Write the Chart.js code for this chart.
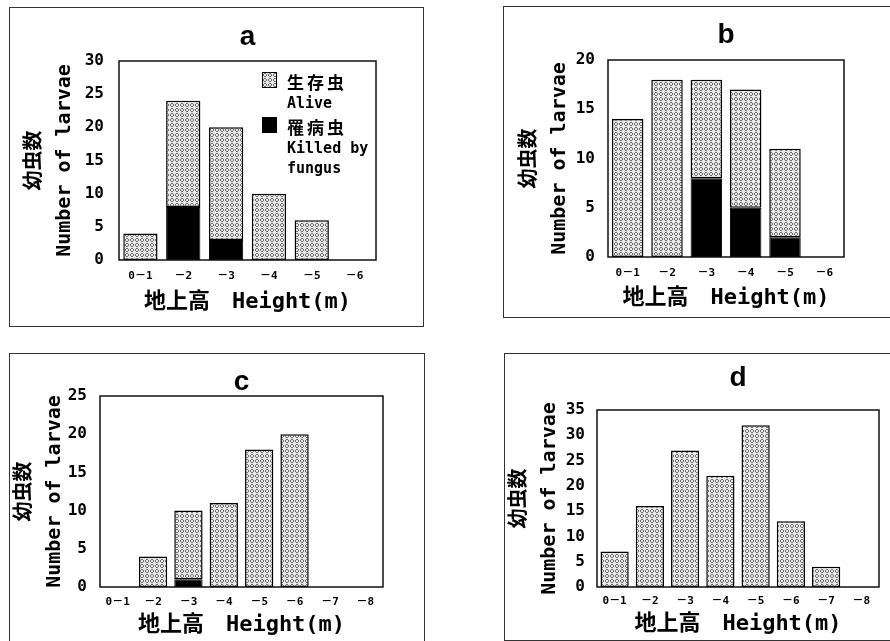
<!DOCTYPE html>
<html>
<head>
<meta charset="utf-8">
<script src="https://cdn.jsdelivr.net/npm/chart.js@4"></script>
<style>
body{margin:0;background:#fff;width:890px;height:641px;overflow:hidden;position:relative;
     font-family:"DejaVu Sans Mono","Noto Sans CJK JP",monospace;color:#000;}
.panel{position:absolute;border:1px solid #333;background:#fff;}
.panel canvas{display:block;}
.lg{position:absolute;left:287px;font-weight:bold;white-space:nowrap;}
.lg.jp{font-family:"Noto Sans CJK JP";font-size:17px;letter-spacing:3px;line-height:20px;}
.lg.en{font-size:15px;line-height:20px;}
.sw{position:absolute;left:262px;width:15px;height:16px;border:1px solid #000;box-sizing:border-box;}
</style>
</head>
<body>
<div class="panel" style="left:9px;top:7px;width:413px;height:318px"><canvas id="chartA"></canvas></div>
<div class="panel" style="left:503px;top:6px;width:398px;height:310px"><canvas id="chartB"></canvas></div>
<div class="panel" style="left:9px;top:353px;width:414px;height:298px"><canvas id="chartC"></canvas></div>
<div class="panel" style="left:504px;top:353px;width:398px;height:286px"><canvas id="chartD"></canvas></div>

<div class="sw" id="swAlive" style="top:72px"></div>
<div class="lg jp" style="top:72px">生存虫</div>
<div class="lg en" style="top:93px">Alive</div>
<div class="sw" style="top:117px;background:#000"></div>
<div class="lg jp" style="top:117px">罹病虫</div>
<div class="lg en" style="top:138px">Killed by</div>
<div class="lg en" style="top:158px">fungus</div>

<script>
// height classes
const labels6 = ['0－1', '－2', '－3', '－4', '－5', '－6'];
const labels8 = ['0－1', '－2', '－3', '－4', '－5', '－6', '－7', '－8'];

// a
const aliveA = [4, 16, 17, 10, 6, 0];
const killedA = [0, 8, 3, 0, 0, 0];
// b
const aliveB = [14, 18, 10, 12, 9, 0];
const killedB = [0, 0, 8, 5, 2, 0];
// c
const aliveC = [0, 4, 9, 11, 18, 20, 0, 0];
const killedC = [0, 0, 1, 0, 0, 0, 0, 0];
// d
const aliveD = [7, 16, 27, 22, 32, 13, 4, 0];
const killedD = [0, 0, 0, 0, 0, 0, 0, 0];

const yMaxA = 30, yMaxB = 20, yMaxC = 25, yMaxD = 35;

const legendAlive = '生存虫 Alive';
const legendKilled = '罹病虫 Killed by fungus';
const xTitle = '地上高　Height(m)';
const yTitle = ['幼虫数', 'Number of larvae'];

Chart.defaults.font.family = '"DejaVu Sans Mono", "Noto Sans CJK JP", monospace';
Chart.defaults.color = '#000';

// dotted halftone fill like the print
function makePattern(){
    let c = document.createElement('canvas');
    c.width = 5; c.height = 5;
    let g = c.getContext('2d');
    g.fillStyle = '#e8e8e8';
    g.fillRect(0, 0, 5, 5);
    g.fillStyle = '#6f6f6f';
    let dots = [[1,0],[2,0],[0,1],[3,1],[0,2],[3,2],[1,3],[2,3]];
    for(let d of dots){
        g.fillRect(d[0], d[1], 1, 1);
    }
    return c;
}
const patCanvas = makePattern();
const pattern = document.createElement('canvas').getContext('2d').createPattern(patCanvas, 'repeat');
document.getElementById('swAlive').style.backgroundImage = 'url(' + patCanvas.toDataURL() + ')';

// box round the plot area
const frame = {
    id: 'frame',
    afterDatasetsDraw(chart){
        const a = chart.chartArea;
        const ctx = chart.ctx;
        ctx.save();
        ctx.strokeStyle = '#111';
        ctx.lineWidth = 1.5;
        ctx.strokeRect(a.left, a.top, a.right - a.left, a.bottom - a.top);
        ctx.restore();
    }
};

function makeChart(id, title, labels, alive, killed, yMax, L){
    const ctx = document.getElementById(id).getContext('2d');
    return new Chart(ctx, {
        type: 'bar',
        data: {
            labels: labels,
            datasets: [{
                label: legendKilled,
                data: killed,
                backgroundColor: '#000',
                borderColor: '#000',
                borderWidth: 1,
                borderSkipped: false
            }, {
                label: legendAlive,
                data: alive,
                backgroundColor: pattern,
                borderColor: '#000',
                borderWidth: 1.5,
                borderSkipped: false
            }]
        },
        options: {
            responsive: true,
            maintainAspectRatio: false,
            animation: false,
            barPercentage: 0.8,
            categoryPercentage: 1,
            layout: {padding: {left: 0, right: L.padRight, top: 0, bottom: 0}},
            plugins: {
                legend: {display: false},
                tooltip: {enabled: false},
                title: {
                    display: true,
                    text: title,
                    fullSize: false,
                    color: '#000',
                    font: {family: '"Liberation Sans", Arial, sans-serif', size: 28, weight: 'bold', lineHeight: 1},
                    padding: {top: L.titleTop, bottom: L.titleBottom}
                }
            },
            scales: {
                x: {
                    stacked: true,
                    grid: {display: false, drawTicks: false},
                    border: {display: false},
                    ticks: {padding: L.xTickPad, maxRotation: 0, autoSkip: false, font: {size: 11, weight: 'bold'}},
                    title: {
                        display: true,
                        text: xTitle,
                        font: {size: 22, weight: 'bold', lineHeight: 1.2},
                        padding: {top: 0, bottom: L.xTitlePad}
                    },
                    afterFit: s => { s.height = L.xHeight; }
                },
                y: {
                    stacked: true,
                    min: 0,
                    max: yMax,
                    grid: {display: false, drawTicks: false},
                    border: {display: false},
                    ticks: {stepSize: 5, padding: L.yTickPad, font: {size: 16, weight: 'bold'}},
                    title: {
                        display: true,
                        text: yTitle,
                        font: {size: 20, weight: 'bold', lineHeight: 1.5},
                        padding: {top: L.yTitlePad, bottom: 0}
                    },
                    afterFit: s => { s.width = L.yWidth; }
                }
            }
        },
        plugins: [frame]
    });
}

makeChart('chartA', 'a', labels6, aliveA, killedA, yMaxA,
    {yWidth: 109, xHeight: 66, padRight: 47, titleTop: 15, titleBottom: 10, yTitlePad: 10, yTickPad: 15, xTickPad: 10, xTitlePad: 11});
makeChart('chartB', 'b', labels6, aliveB, killedB, yMaxB,
    {yWidth: 104, xHeight: 60, padRight: 58, titleTop: 14, titleBottom: 11, yTitlePad: 11, yTickPad: 13, xTickPad: 10, xTitlePad: 6});
makeChart('chartC', 'c', labels8, aliveC, killedC, yMaxC,
    {yWidth: 90, xHeight: 65, padRight: 41, titleTop: 14, titleBottom: 0, yTitlePad: 0, yTickPad: 13, xTickPad: 9, xTitlePad: 14});
makeChart('chartD', 'd', labels8, aliveD, killedD, yMaxD,
    {yWidth: 92, xHeight: 53, padRight: 24, titleTop: 10, titleBottom: 18, yTitlePad: 0, yTickPad: 12, xTickPad: 8, xTitlePad: 3});
</script>
</body>
</html>
